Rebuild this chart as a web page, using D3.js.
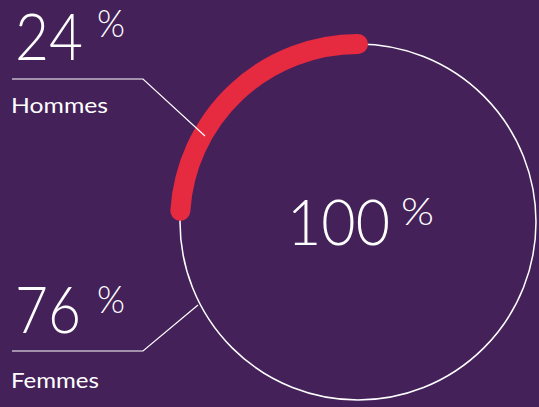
<!DOCTYPE html>
<html><head><meta charset="utf-8">
<script src="https://cdn.jsdelivr.net/npm/d3@7"></script>
<style>html,body{margin:0;padding:0;background:#45215a;}svg{display:block}</style>
</head><body>
<svg id="c" width="539" height="407"></svg>
<script>
const categories = ["Hommes", "Femmes"];
const values = [24, 76];
const totalLabel = [100];

const W = 539, H = 407;
const svg = d3.select("#c");
svg.append("rect").attr("width", W).attr("height", H).attr("fill", "#45215a");

const cx = 358, cy = 222, r = 178;
const g = svg.append("g").attr("transform", `translate(${cx},${cy})`);

const total = d3.sum(values);
const angle = d3.scaleLinear().domain([0, total]).range([0, 2 * Math.PI]);

// leader lines (under the arc)
const leaders = [
  {pts: [[12, 79], [143, 79], [205, 136]]},
  {pts: [[12, 351], [143, 351], [198, 305]]}
];
svg.selectAll("path.leader").data(leaders).enter().append("path")
  .attr("class", "leader")
  .attr("d", d => d3.line()(d.pts))
  .attr("fill", "none").attr("stroke", "#fff").attr("stroke-width", 1.2);

g.append("circle").attr("r", r).attr("fill", "none").attr("stroke", "#fff").attr("stroke-width", 1.5);

const p = d3.path();
const a0 = -angle(values[0]) - Math.PI / 2, a1 = -Math.PI / 2;
p.moveTo(r * Math.cos(a0), r * Math.sin(a0));
p.arc(0, 0, r, a0, a1, false);
g.append("path")
  .attr("d", p.toString())
  .attr("fill", "none").attr("stroke", "#e62a40")
  .attr("stroke-width", 20).attr("stroke-linecap", "round");

const font = "Lato, 'Open Sans', sans-serif";
const layout = [
  {x: 15, yNum: 60, numLen: 68, yPct: 37, yName: 113, nameLen: 97},
  {x: 15, yNum: 333, numLen: 66, yPct: 313, yName: 388, nameLen: 88}
];
values.forEach((v, i) => {
  const l = layout[i];
  svg.append("text").attr("x", l.x).attr("y", l.yNum)
    .attr("font-family", font).attr("font-weight", 300).attr("fill", "#fff")
    .attr("font-size", 66).attr("textLength", l.numLen).attr("lengthAdjust", "spacingAndGlyphs")
    .text(v);
  svg.append("text").attr("x", 97).attr("y", l.yPct)
    .attr("font-family", font).attr("font-weight", 300).attr("fill", "#fff")
    .attr("font-size", 38).attr("textLength", 28).attr("lengthAdjust", "spacingAndGlyphs").text("%");
  svg.append("text").attr("x", 11).attr("y", l.yName)
    .attr("font-family", font).attr("font-weight", 400).attr("fill", "#fff")
    .attr("font-size", 22).attr("textLength", l.nameLen).attr("lengthAdjust", "spacingAndGlyphs")
    .text(categories[i]);
});

svg.append("text").attr("x", 287).attr("y", 245)
  .attr("font-family", font).attr("font-weight", 300).attr("fill", "#fff")
  .attr("font-size", 63).attr("textLength", 103).attr("lengthAdjust", "spacingAndGlyphs")
  .text(totalLabel[0]);
svg.append("text").attr("x", 401).attr("y", 225)
  .attr("font-family", font).attr("font-weight", 300).attr("fill", "#fff")
  .attr("font-size", 38).attr("textLength", 33).attr("lengthAdjust", "spacingAndGlyphs").text("%");
</script>
</body></html>
